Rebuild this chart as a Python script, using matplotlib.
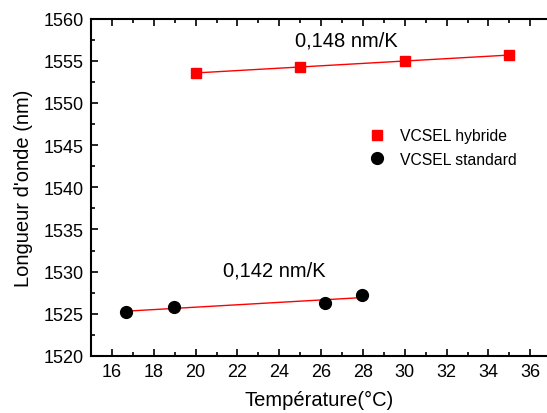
import numpy as np
import matplotlib.pyplot as plt
from matplotlib.ticker import MultipleLocator

plt.rcParams['font.family'] = ['Liberation Sans', 'DejaVu Sans']

# VCSEL hybride
temp_hyb = [20, 25, 30, 35]
lambda_hyb = [1553.55, 1554.25, 1554.96, 1555.67]

# VCSEL standard
temp_std = [16.65, 18.97, 26.19, 27.97]
lambda_std = [1525.26, 1525.78, 1526.26, 1527.24]

fig = plt.figure(figsize=(5.47, 4.14), dpi=100)
ax = fig.add_axes([91 / 547, 1 - 357 / 414, (547 - 91) / 547, (357 - 19.5) / 414])

# linear fits
p_hyb = np.polyfit(temp_hyb, lambda_hyb, 1)
p_std = np.polyfit(temp_std, lambda_std, 1)
xh = np.array([min(temp_hyb), max(temp_hyb)])
xs = np.array([min(temp_std), max(temp_std)])
ax.plot(xh, np.polyval(p_hyb, xh), color='red', lw=1)
ax.plot(xs, np.polyval(p_std, xs), color='red', lw=1)

ax.plot(temp_hyb, lambda_hyb, 's', color='red', ms=7.2, mec='red', label='VCSEL hybride', zorder=3)
ax.plot(temp_std, lambda_std, 'o', color='black', ms=8.5, label='VCSEL standard', zorder=3)

ax.text(27.2, 1557.45, '0,148 nm/K', fontsize=14.5, ha='center', va='center')
ax.text(23.74, 1530.2, '0,142 nm/K', fontsize=14.5, ha='center', va='center')

ax.set_xlim(15, 36.8)
ax.set_ylim(1520, 1560)
ax.xaxis.set_major_locator(MultipleLocator(2))
ax.xaxis.set_minor_locator(MultipleLocator(1))
ax.yaxis.set_major_locator(MultipleLocator(5))
ax.yaxis.set_minor_locator(MultipleLocator(2.5))
ax.tick_params(which='both', direction='in', top=True, right=False, labelsize=13, width=1.2, pad=5)
ax.tick_params(which='major', length=5)
ax.tick_params(which='minor', length=3)
ax.spines['right'].set_visible(False)
for s in ['left', 'bottom', 'top']:
    ax.spines[s].set_linewidth(1.5)

ax.set_xlabel('Température(°C)', fontsize=14.5, labelpad=7.5)
ax.set_ylabel("Longueur d'onde (nm)", fontsize=14.5, labelpad=8)

ax.legend(loc='center left', bbox_to_anchor=(369 / 547, 1 - 148.5 / 414), bbox_transform=fig.transFigure,
          frameon=False, fontsize=11.3, borderpad=0, borderaxespad=0,
          handletextpad=1.0, labelspacing=0.52, handlelength=1.0)

fig.savefig('out.png', dpi=100)
